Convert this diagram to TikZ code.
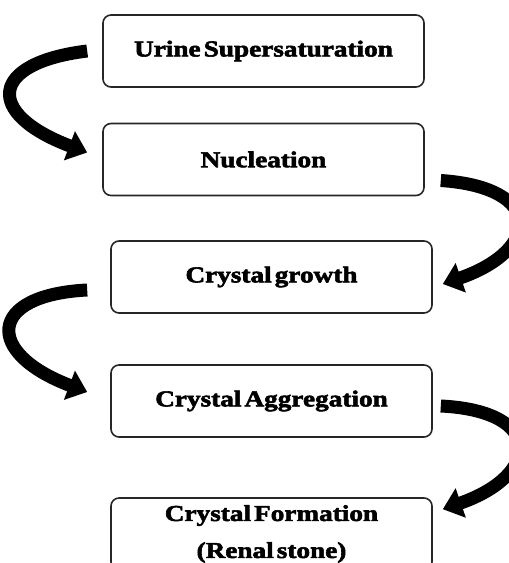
\documentclass[tikz,border=0pt]{standalone}
\usepackage{fontspec}
\setmainfont{Liberation Serif}[FakeStretch=1.2,WordSpace=0.45,
  BoldFeatures={FakeBold=2.5}]
\usepackage{tikz}
\usetikzlibrary{arrows.meta}

\begin{document}
\begin{tikzpicture}[x=1pt, y=1pt,
  stage/.style={draw=black!85, line width=1.6pt, rounded corners=8pt,
    minimum width=321pt, minimum height=72pt, inner sep=0pt, align=center,
    font=\fontsize{22.7}{37}\selectfont\bfseries},
  curl/.style={line width=13pt, -{Triangle[length=19pt, width=30pt]}}]
  \def\W{509}
  \def\H{563}
  \useasboundingbox (0,0) rectangle (\W,\H);
  \clip (0,0) rectangle (\W,\H);
  \node[stage] (sat) at (263.5,512) {Urine Supersaturation};
  \node[stage] (nuc) at (263.5,403.5) {Nucleation};
  \node[stage] (growth) at (271.5,286) {Crystal growth};
  \node[stage] (aggr) at (271.5,162) {Crystal Aggregation};
  \node[stage] (form) at (271.5,29) {Crystal Formation\\(Renal stone)};
  \draw[curl]
    ([xshift=-15pt]sat.west)
    .. controls +(-98,-12) and +(-103,39) ..
    ([shift={(-15pt,7pt)}]nuc.west)
  ;
  \draw[curl]
    ([shift={(16pt,-21pt)}]nuc.east)
    .. controls +(104,-7) and +(98,34) ..
    ([shift={(10pt,-7pt)}]growth.east)
  ;
  \draw[curl]
    ([shift={(-23pt,-13pt)}]growth.west)
    .. controls +(-100,-5) and +(-103,39) ..
    ([shift={(-23pt,9pt)}]aggr.west)
  ;
  \draw[curl]
    ([shift={(8pt,-5pt)}]aggr.east)
    .. controls +(104,-5) and +(98,34) ..
    ([shift={(10pt,-12pt)}]form.north east)
  ;
\end{tikzpicture}
\end{document}
